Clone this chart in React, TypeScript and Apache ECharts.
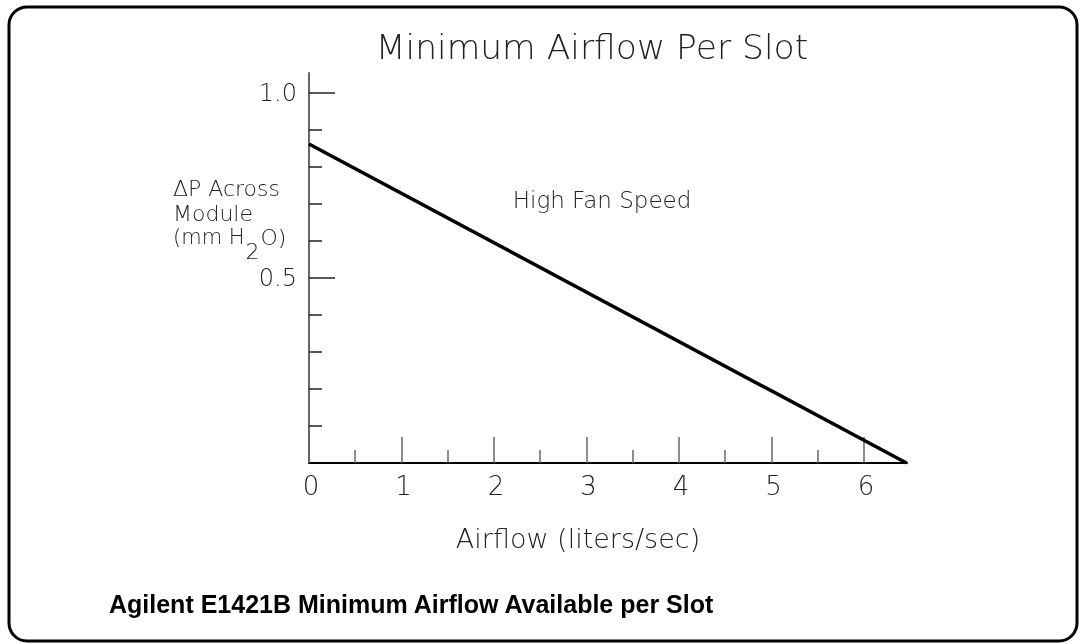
import React, { useEffect, useRef } from 'react';
import * as echarts from 'echarts';

const chartTitle = 'Minimum Airflow Per Slot';
const caption = 'Agilent E1421B Minimum Airflow Available per Slot';
const annotation = 'High Fan Speed';
const xAxisName = 'Airflow (liters/sec)';
const yNameLine1 = '\u0394P Across';
const yNameLine2 = 'Module';
const yNameLine3a = '(mm H';
const yNameSub = '2';
const yNameLine3b = 'O)';
const airflow = [0, 6.46];
const deltaP = [0.862, 0];
const xMajorTicks = [0, 1, 2, 3, 4, 5, 6];
const xMinorTicks = [0.5, 1.5, 2.5, 3.5, 4.5, 5.5];
const yMajorTicks = [0.5, 1.0];
const yMinorTicks = [0.1, 0.2, 0.3, 0.4, 0.6, 0.7, 0.8, 0.9];
const xMax = 6.465;
const yMax = 1.054;

const FONT = 'DejaVu Sans';
const LIGHT = 200;

function measure(text: string, size: number): number {
  const c = document.createElement('canvas').getContext('2d');
  if (!c) return text.length * size * 0.6;
  c.font = `${LIGHT} ${size}px "${FONT}"`;
  return c.measureText(text).width;
}

export default function App() {
  const ref = useRef<HTMLDivElement>(null);
  useEffect(() => {
    if (!ref.current) return;
    const chart = echarts.init(ref.current, undefined, { renderer: 'svg' });
    const lineData = airflow.map((x, i) => [x, deltaP[i]]);
    const textBase = { fontFamily: FONT, fontWeight: LIGHT, fill: '#222' };
    const ySize = 22;
    const yRight = 280;
    const yLeft = yRight - measure(yNameLine1, ySize);
    const subX = yLeft + measure(yNameLine3a, 21) + 1;
    const afterSubX = subX + measure(yNameSub, ySize) + 1;
    const xAxisCommon = {
      type: 'value', min: 0, max: xMax, gridIndex: 0, position: 'bottom',
      splitLine: { show: false },
    };
    const yAxisCommon = {
      type: 'value', min: 0, max: yMax, gridIndex: 0, position: 'left',
      splitLine: { show: false },
    };
    chart.setOption({
      animation: false,
      grid: { left: 309, top: 73, width: 598, height: 390, containLabel: false },
      xAxis: [
        {
          ...xAxisCommon,
          axisLine: { show: true, lineStyle: { color: '#000', width: 2 } },
          axisTick: { show: true, inside: true, length: 26, customValues: xMajorTicks, lineStyle: { color: '#666', width: 1.5 } },
          axisLabel: { show: true, customValues: xMajorTicks, margin: 10, fontSize: 26, fontFamily: FONT, fontWeight: LIGHT, color: '#222', padding: [0, 0, 0, 4] },
        },
        {
          ...xAxisCommon,
          axisLine: { show: false },
          axisTick: { show: true, inside: true, length: 13, customValues: xMinorTicks, lineStyle: { color: '#666', width: 1.5 } },
          axisLabel: { show: false },
        },
      ],
      yAxis: [
        {
          ...yAxisCommon,
          axisLine: { show: true, lineStyle: { color: '#666', width: 2 } },
          axisTick: { show: true, inside: true, length: 26, customValues: yMajorTicks, lineStyle: { color: '#222', width: 1.5 } },
          axisLabel: { show: true, customValues: yMajorTicks, formatter: (v: number) => v.toFixed(1), margin: 12, fontSize: 24, fontFamily: FONT, fontWeight: LIGHT, color: '#222' },
        },
        {
          ...yAxisCommon,
          axisLine: { show: false },
          axisTick: { show: true, inside: true, length: 13, customValues: yMinorTicks, lineStyle: { color: '#222', width: 1.5 } },
          axisLabel: { show: false },
        },
      ],
      series: [
        {
          type: 'line', xAxisIndex: 0, yAxisIndex: 0, data: lineData,
          showSymbol: false, symbol: 'none',
          lineStyle: { color: '#000', width: 3.5 },
        },
      ],
      graphic: [
        { type: 'rect', shape: { x: 9, y: 7, width: 1068, height: 634, r: 18 }, style: { fill: 'none', stroke: '#000', lineWidth: 3 }, silent: true },
        { type: 'text', x: 592, y: 47, style: { ...textBase, text: chartTitle, fontSize: 34.5, align: 'center', verticalAlign: 'middle' } },
        { type: 'text', x: 602, y: 200, style: { ...textBase, text: annotation, fontSize: 23, align: 'center', verticalAlign: 'middle' } },
        { type: 'text', x: 578, y: 538, style: { ...textBase, text: xAxisName, fontSize: 27, align: 'center', verticalAlign: 'middle' } },
        { type: 'text', x: yLeft, y: 188, style: { ...textBase, text: yNameLine1, fontSize: ySize, align: 'left', verticalAlign: 'middle' } },
        { type: 'text', x: yLeft, y: 213, style: { ...textBase, text: yNameLine2, fontSize: ySize, align: 'left', verticalAlign: 'middle' } },
        { type: 'text', x: yLeft, y: 237, style: { ...textBase, text: yNameLine3a, fontSize: 21, align: 'left', verticalAlign: 'middle' } },
        { type: 'text', x: subX, y: 251, style: { ...textBase, text: yNameSub, fontSize: ySize, align: 'left', verticalAlign: 'middle' } },
        { type: 'text', x: afterSubX, y: 237, style: { ...textBase, text: yNameLine3b, fontSize: ySize, align: 'left', verticalAlign: 'middle' } },
        { type: 'text', x: 109, y: 604, style: { text: caption, fontFamily: 'Liberation Sans', fontWeight: 'bold', fontSize: 25, fill: '#000', align: 'left', verticalAlign: 'middle' } },
      ],
    });
    return () => chart.dispose();
  }, []);
  return <div ref={ref} style={{ position: 'fixed', left: 0, top: 0, width: 1080, height: 644 }} />;
}
